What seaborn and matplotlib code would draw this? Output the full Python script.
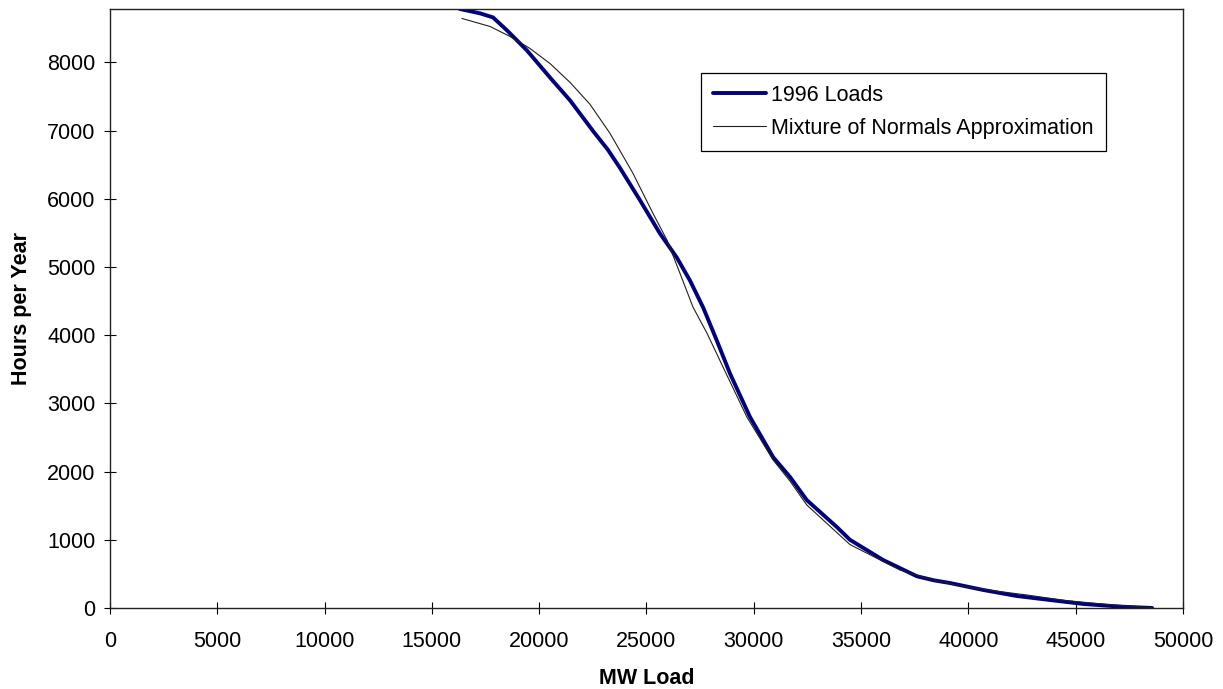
"""
Load duration curve: 1996 loads vs. mixture of normals approximation.
"""

import matplotlib
matplotlib.use("Agg")
import matplotlib.pyplot as plt
import seaborn as sns
import pandas as pd

# 1996 load duration curve (MW load, hours per year above that load)
loads_mw = [16300, 17240, 17850, 18500, 19430, 20500, 21440, 22520, 23200,
            23770, 24700, 25630, 26410, 27030, 27650, 28270, 28890, 29820,
            30900, 31690, 32470, 33870, 34480, 36030, 37600, 38400, 39140,
            40690, 42250, 43800, 45350, 47070, 48560]
loads_hours = [8784, 8720, 8660, 8470, 8176, 7780, 7443, 6990, 6720,
               6450, 5978, 5490, 5140, 4800, 4400, 3927, 3439, 2803,
               2212, 1920, 1582, 1187, 1000, 703, 465, 405, 366,
               264, 176, 117, 59, 20, 0]

# mixture of normals approximation
mix_mw = [16400, 17710, 18640, 19570, 20500, 21440, 22370, 23300, 24370,
          25300, 25960, 26560, 27170, 27820, 28570, 29680, 30900, 31690,
          32470, 33370, 34480, 36810, 38350, 39930, 40690, 41470, 42730,
          44500, 46500, 48560]
mix_hours = [8645, 8527, 8381, 8205, 7985, 7707, 7385, 6960, 6374,
             5788, 5392, 4908, 4410, 4029, 3531, 2799, 2170, 1860,
             1510, 1250, 930, 557, 410, 308, 275, 240, 190,
             110, 50, 5]

x_ticks = list(range(0, 50001, 5000))
y_ticks = list(range(0, 8001, 1000))

sns.set_style("white")
plt.rcParams['font.family'] = ['Liberation Sans', 'DejaVu Sans']

fig = plt.figure(figsize=(12.23, 6.89), dpi=100)
ax = fig.add_axes([0.0899, 0.1176, 0.8774, 0.8694])

sns.lineplot(x=loads_mw, y=loads_hours, ax=ax, color='#000080', linewidth=2.8,
             sort=False, estimator=None, label='1996 Loads')
sns.lineplot(x=mix_mw, y=mix_hours, ax=ax, color='#202020', linewidth=0.8,
             sort=False, estimator=None, label='Mixture of Normals Approximation')

ax.set_xlim(0, 50000)
ax.set_ylim(0, 8784)
ax.set_xticks(x_ticks)
ax.set_yticks(y_ticks)
ax.tick_params(bottom=True, left=True, top=False, right=False,
               direction='inout', length=8.5, width=0.8, color='black',
               labelsize=15.5, labelcolor='black')
ax.tick_params(axis='x', pad=12)
ax.tick_params(axis='y', pad=6)

for side in ['left', 'right', 'top', 'bottom']:
    ax.spines[side].set_visible(True)
    ax.spines[side].set_color('#222222')
    ax.spines[side].set_linewidth(1.0)

ax.set_xlabel('MW Load', fontsize=15.5, fontweight='bold', color='black', labelpad=12)
ax.set_ylabel('Hours per Year', fontsize=15.5, fontweight='bold', color='black', labelpad=11)

leg = ax.legend(loc='upper left', bbox_to_anchor=(0.551, 0.893), borderaxespad=0,
                fontsize=15.5, frameon=True, fancybox=False, framealpha=1,
                edgecolor='black', handlelength=2.45, handletextpad=0.25,
                borderpad=0.55, labelspacing=0.55)
leg.get_frame().set_linewidth(0.9)
for txt in leg.get_texts():
    txt.set_color('black')

fig.savefig('out.png', dpi=100)
